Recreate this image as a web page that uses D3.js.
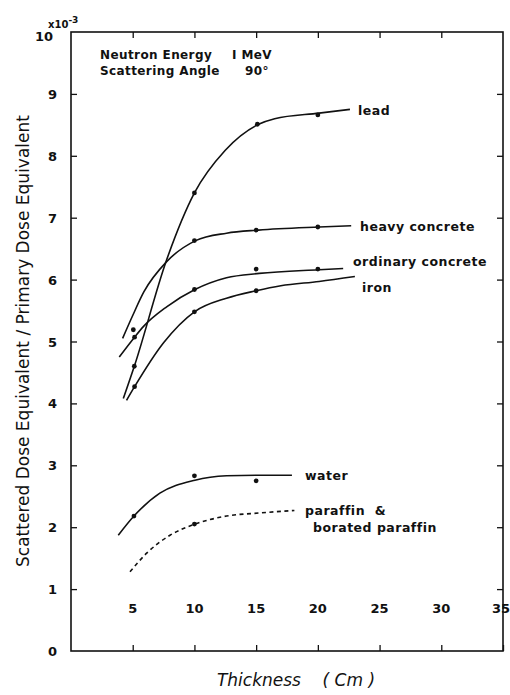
<!DOCTYPE html>
<html><head><meta charset="utf-8">
<script src="https://cdn.jsdelivr.net/npm/d3@7"></script>
<style>body{margin:0;background:#fff;} text{font-family:"DejaVu Sans",sans-serif;fill:#111;}</style>
</head><body><svg id="c" width="510" height="695"></svg>
<script>
// ---- data ----
const xTicks = [5,10,15,20,25,30,35];
const yTicks = [0,1,2,3,4,5,6,7,8,9,10];
const seriesNames = ["lead","heavy concrete","ordinary concrete","iron","water","paraffin & borated paraffin"];
// smooth curve traces [thickness cm, value x1e-3]
const leadCurve = [[4.24,4.08],[5.13,4.60],[7.75,6.32],[10,7.40],[12.5,8.09],[15.2,8.51],[16.5,8.60],[20.1,8.69],[22.6,8.75]];
const heavyCurve = [[4.18,5.05],[5.0,5.42],[5.9,5.80],[7.75,6.29],[10.1,6.63],[12.6,6.75],[15.2,6.80],[20.1,6.85],[22.7,6.87]];
const ordinaryCurve = [[3.91,4.75],[5.15,5.07],[5.86,5.24],[7.75,5.56],[10.04,5.84],[12.6,6.03],[15.25,6.10],[20.1,6.16],[22.05,6.18]];
const ironCurve = [[4.5,4.05],[5.15,4.27],[7.5,4.98],[10,5.48],[12.6,5.70],[15.0,5.82],[17,5.90],[20.1,5.97],[23.0,6.05]];
const waterCurve = [[3.83,1.87],[5.1,2.18],[7.2,2.55],[10.04,2.76],[12.6,2.83],[15.1,2.84],[17.9,2.84]];
const paraffinCurve = [[4.78,1.28],[6.13,1.58],[8.02,1.87],[10.04,2.05],[12.6,2.18],[15.3,2.23],[18.1,2.27]];
// measured points
const leadPts = [[5.13,4.60],[10,7.40],[15.1,8.51],[20,8.66]];
const heavyPts = [[5.05,5.19],[10,6.63],[15,6.80],[20,6.85]];
const ordinaryPts = [[5.15,5.07],[10,5.84],[15,6.17],[20,6.17]];
const ironPts = [[5.15,4.27],[10,5.48],[15,5.82]];
const waterPts = [[5.1,2.18],[10,2.83],[15,2.75]];
const paraffinPts = [[10,2.05]];

const svg = d3.select("#c");
const x = d3.scaleLinear().domain([0,35]).range([71,503]);
const y = d3.scaleLinear().domain([0,10]).range([651,32]);
const ink = "#111";

// frame
svg.append("rect").attr("x",71).attr("y",32).attr("width",432).attr("height",619)
  .attr("fill","none").attr("stroke",ink).attr("stroke-width",1.6);

// axes with inward ticks
const gB = svg.append("g").attr("transform","translate(0,651)")
  .call(d3.axisTop(x).tickValues(xTicks).tickSize(6).tickFormat(""));
const gT = svg.append("g").attr("transform","translate(0,32)")
  .call(d3.axisBottom(x).tickValues(xTicks.slice(0,-1)).tickSize(6).tickFormat(""));
const gL = svg.append("g").attr("transform","translate(71,0)")
  .call(d3.axisRight(y).tickValues(yTicks.slice(1,-1)).tickSize(6).tickFormat(""));
const gR = svg.append("g").attr("transform","translate(503,0)")
  .call(d3.axisLeft(y).tickValues(yTicks.slice(1,-1)).tickSize(6).tickFormat(""));
[gB,gT,gL,gR].forEach(g=>{g.select(".domain").remove(); g.selectAll("line").attr("stroke",ink).attr("stroke-width",1.3);});

// tick labels
svg.append("g").selectAll("text").data(xTicks).join("text")
  .attr("x",d=>d===35 ? x(d)-2 : x(d)).attr("y",613).attr("text-anchor","middle")
  .attr("font-size",13).attr("font-weight","bold").text(d=>d);
svg.append("g").selectAll("text").data(yTicks).join("text")
  .attr("x",d=>d===10 ? 53 : 57).attr("y",d=>y(d)+(d===10 ? 9 : 5)).attr("text-anchor","end")
  .attr("font-size",13).attr("font-weight","bold").text(d=>d);
const mult = svg.append("text").attr("x",48).attr("y",28).attr("font-size",10).attr("font-weight","bold");
mult.append("tspan").text("x10");
mult.append("tspan").attr("dy",-5).attr("font-size",9).text("-3");

// axis titles
svg.append("text").attr("x",296).attr("y",686).attr("text-anchor","middle")
  .attr("font-size",17).attr("font-style","italic").attr("xml:space","preserve").text("Thickness    ( Cm )");
svg.append("text").attr("transform","translate(29,341) rotate(-90)").attr("text-anchor","middle")
  .attr("font-size",17).text("Scattered Dose Equivalent / Primary Dose Equivalent");

// annotation
const ann = [
  {t:"Neutron Energy", x:100, y:59}, {t:"I MeV", x:232, y:59},
  {t:"Scattering Angle", x:100, y:75}, {t:"90°", x:245, y:75}
];
svg.append("g").selectAll("text").data(ann).join("text")
  .attr("x",d=>d.x).attr("y",d=>d.y).attr("font-size",12).attr("font-weight","bold")
  .attr("letter-spacing",0.4).text(d=>d.t);

// curves
const line = d3.line().x(d=>x(d[0])).y(d=>y(d[1])).curve(d3.curveMonotoneX);
const curves = [leadCurve,heavyCurve,ordinaryCurve,ironCurve,waterCurve,paraffinCurve];
curves.forEach((c,i)=>{
  svg.append("path").attr("d",line(c)).attr("fill","none").attr("stroke",ink)
    .attr("stroke-width",1.6).attr("stroke-dasharray", i===5 ? "4,3.5" : null);
});
const pts = [leadPts,heavyPts,ordinaryPts,ironPts,waterPts,paraffinPts];
pts.forEach(p=>{
  svg.append("g").selectAll("circle").data(p).join("circle")
    .attr("cx",d=>x(d[0])).attr("cy",d=>y(d[1])).attr("r",2.4).attr("fill",ink);
});

// series labels
const labs = [
  {t:seriesNames[0], x:358, y:115},
  {t:seriesNames[1], x:360, y:231},
  {t:seriesNames[2], x:353, y:266},
  {t:seriesNames[3], x:362, y:292},
  {t:seriesNames[4], x:305, y:480},
  {t:"paraffin  &", x:305, y:515},
  {t:"borated paraffin", x:313, y:532}
];
svg.append("g").selectAll("text").data(labs).join("text")
  .attr("x",d=>d.x).attr("y",d=>d.y).attr("font-size",12.5).attr("font-weight","bold")
  .attr("letter-spacing",0.5).attr("xml:space","preserve").text(d=>d.t);
</script></body></html>
